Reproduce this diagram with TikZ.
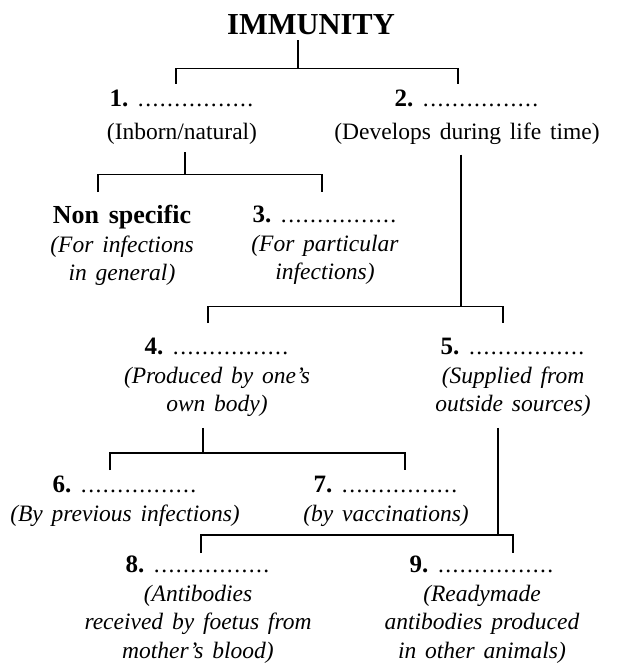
\documentclass[tikz,border=0pt]{standalone}
\usepackage{fontspec}
\setmainfont{Liberation Serif}[WordSpace=1.5]
\newcommand\blank{\hbox to 117pt{\leaders\hbox to 7.3pt{\hss.\hss}\hfil}}
\newcommand\body{\fontsize{23.5}{28.5}\selectfont}
\newcommand\hd{\fontsize{25}{28.5}\selectfont\bfseries}

\tikzset{
  part/.style={inner sep=0pt, align=center, anchor=north, font=\body},
  link/.style={line width=1.8pt},
}

\begin{document}
\begin{tikzpicture}[x=1pt,y=-1pt]
\useasboundingbox (0,0) rectangle (616,663);
\node[inner sep=0pt, anchor=base, font=\fontsize{30.5}{36}\selectfont\bfseries] (immunity) at (311,35) {IMMUNITY};

\node[part] (innate) at (182,90) {{\hd 1.}~\blank\\[4pt] (Inborn/natural)};
\node[part] (acquired) at (467,90) {{\hd 2.}~\blank\\[4pt] (Develops during life time)};

\node[part] (nonspec) at (122,205) {{\fontsize{26}{28.5}\selectfont\bfseries Non specific}\\ \textit{(For infections}\\ \textit{in general)}};
\node[part] (specific) at (325,206) {{\hd 3.}~\blank\\ \textit{(For particular}\\ \textit{infections)}};

\node[part] (active) at (217,338) {{\hd 4.}~\blank\\ \textit{(Produced by one's}\\ \textit{own body)}};
\node[part] (passive) at (513,338) {{\hd 5.}~\blank\\ \textit{(Supplied from}\\ \textit{outside sources)}};

\node[part] (natural) at (125,476) {{\hd 6.}~\blank\\ \textit{(By previous infections)}};
\node[part] (artificial) at (386,476) {{\hd 7.}~\blank\\ \textit{(by vaccinations)}};

\node[part] (natpass) at (198,556) {{\hd 8.}~\blank\\ \textit{(Antibodies}\\ \textit{received by foetus from}\\ \textit{mother's blood)}};
\node[part] (artpass) at (482,556) {{\hd 9.}~\blank\\ \textit{(Readymade}\\ \textit{antibodies produced}\\ \textit{in other animals)}};

% immunity -> 1, 2
\draw[link] ([shift={(-13,5)}]immunity.south) -- ++(0,28) coordinate (j0);
\draw[link] ([shift={(-6,-6)}]innate.north) |- (j0) -| ([shift={(-9,-6)}]acquired.north);

% 1 -> non specific, 3
\draw[link] ([shift={(3,8)}]innate.south) -- ++(0,22) coordinate (j1);
\draw[link] ([shift={(-24,-13)}]nonspec.north) |- (j1) -| ([shift={(-3,-14)}]specific.north);

% 2 -> 4, 5
\draw[link] ([shift={(-6,10)}]acquired.south) -- ++(0,152) coordinate (j2);
\draw[link] ([shift={(-9,-15)}]active.north) |- (j2) -| ([shift={(-10,-15)}]passive.north);

% 4 -> 6, 7
\draw[link] ([shift={(-14,11)}]active.south) -- ++(0,25) coordinate (j3);
\draw[link] ([shift={(-15,-6)}]natural.north) |- (j3) -| ([shift={(19,-6)}]artificial.north);

% 5 -> 8, 9
\draw[link] ([shift={(-15,11)}]passive.south) -- ++(0,107) coordinate (j4);
\draw[link] ([shift={(3,-3)}]natpass.north) |- (j4) -| ([shift={(31,-3)}]artpass.north);
\end{tikzpicture}
\end{document}
